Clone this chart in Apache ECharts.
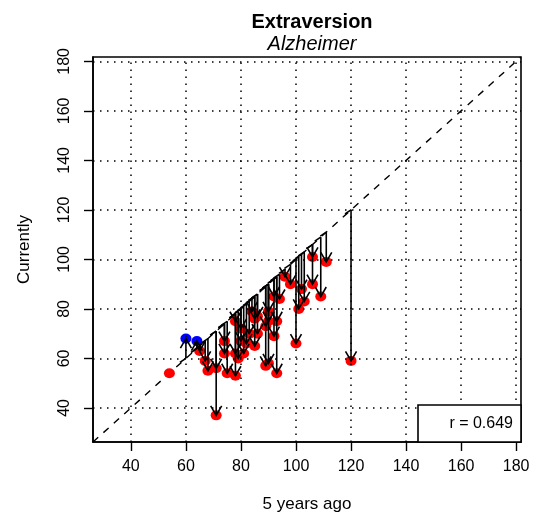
<!DOCTYPE html>
<html>
<head>
<meta charset="utf-8">
<script src="https://cdn.jsdelivr.net/npm/echarts@6/dist/echarts.min.js"></script>
<style>html,body{margin:0;padding:0;background:#fff;}#chart{width:536px;height:520px;}</style>
</head>
<body>
<div id="chart"></div>
<script>
// ---- data ----
const titleText = 'Extraversion';
const subtitleText = 'Alzheimer';
const xName = '5 years ago';
const yName = 'Currently';
const axisMin = 26.24;
const axisMax = 181.76;
const xTicks = [40, 60, 80, 100, 120, 140, 160, 180];
const yTicks = [40, 60, 80, 100, 120, 140, 160, 180];
const rValue = 0.649;
const fiveYearsAgo = [54, 60, 64, 65, 67, 68, 71, 71, 74, 74, 75, 78, 78, 79, 78, 80, 81, 82, 80, 84, 85, 85, 86, 86, 89, 89, 90, 90, 90, 92, 93, 93, 92, 94, 96, 98, 100, 101, 103, 102, 106, 106, 109, 111, 120, 83];
const currently    = [54, 68, 67, 63, 59, 55, 56, 37, 67, 62, 54, 53, 62, 60, 75, 72, 62, 66, 67, 79, 76, 65, 70, 77, 73, 57, 58, 79, 75, 69, 54, 75, 85, 84, 93, 90, 66, 80, 83, 88, 101, 90, 85, 99, 59, 70];

const FONT = 'Liberation Sans, Arial, Helvetica, sans-serif';
const pts = fiveYearsAgo.map((x, i) => [x, currently[i]]);

const chart = echarts.init(document.getElementById('chart'), null, {renderer: 'canvas'});
const option = {
  backgroundColor: '#fff',
  animation: false,
  title: [
    {text: titleText, left: 307, top: 7, textAlign: 'center',
     textStyle: {fontFamily: FONT, fontSize: 20, fontWeight: 'bold', color: '#000'}},
    {text: subtitleText, left: 307, top: 29, textAlign: 'center',
     textStyle: {fontFamily: FONT, fontSize: 20, fontStyle: 'italic', fontWeight: 'normal', color: '#000'}}
  ],
  grid: {left: 93, right: 15, top: 57, bottom: 78, show: true, borderColor: '#000', borderWidth: 1.6, backgroundColor: 'transparent'},
  xAxis: {
    type: 'value', min: axisMin, max: axisMax,
    name: xName, nameLocation: 'middle', nameGap: 54,
    nameTextStyle: {fontFamily: FONT, fontSize: 17, color: '#000'},
    axisLine: {show: true, lineStyle: {color: '#000', width: 1.6}},
    axisTick: {show: true, customValues: xTicks, length: 9, lineStyle: {color: '#000', width: 1.4}},
    axisLabel: {show: true, customValues: xTicks, margin: 17, fontFamily: FONT, fontSize: 16, color: '#000'},
    splitLine: {show: false}
  },
  yAxis: {
    type: 'value', min: axisMin, max: axisMax,
    name: yName, nameLocation: 'middle', nameGap: 60, nameRotate: 90,
    nameTextStyle: {fontFamily: FONT, fontSize: 17, color: '#000'},
    axisLine: {show: true, lineStyle: {color: '#000', width: 1.6}},
    axisTick: {show: true, customValues: yTicks, length: 9, lineStyle: {color: '#000', width: 1.4}},
    axisLabel: {show: true, customValues: yTicks, rotate: 90, margin: 20, fontFamily: FONT, fontSize: 16, color: '#000'},
    splitLine: {show: false}
  },
  graphic: [
    {type: 'rect', z: 100, shape: {x: 418, y: 405, width: 103, height: 37},
     style: {fill: '#fff', stroke: '#000', lineWidth: 1.6}},
    {type: 'text', z: 101, x: 513, y: 424,
     style: {text: 'r = ' + rValue.toFixed(3), fill: '#000', font: '16px ' + FONT, align: 'right', verticalAlign: 'middle'}}
  ],
  series: [
    {
      type: 'line', data: [[axisMin, axisMin], [axisMax, axisMax]], symbol: 'none', silent: true, z: 2,
      lineStyle: {color: '#000', width: 1.4, type: [7, 7]},
      markLine: {
        silent: true, symbol: ['none', 'none'], label: {show: false},
        lineStyle: {color: '#000', width: 1.5, type: [1.5, 5.5]},
        data: xTicks.map(v => ({xAxis: v})).concat(yTicks.map(v => ({yAxis: v})))
      }
    },
    {
      type: 'scatter', z: 3, symbol: 'circle', symbolSize: [11, 10],
      data: pts.map(p => ({value: p, itemStyle: {color: p[1] > p[0] ? '#0000ff' : '#ff0000', opacity: 1}}))
    },
    {
      type: 'custom', z: 4, silent: true,
      data: pts,
      encode: {x: 0, y: 1},
      renderItem: function (params, api) {
        const x = api.value(0), y = api.value(1);
        if (x === y) return null;
        const p0 = api.coord([x, x]);
        const p1 = api.coord([x, y]);
        const d = p1[1] > p0[1] ? 1 : -1;
        const L = 11;
        const s = L * Math.sin(Math.PI / 6), c = L * Math.cos(Math.PI / 6);
        const st = {stroke: '#000', lineWidth: 1.6, fill: null};
        return {
          type: 'group',
          children: [
            {type: 'line', shape: {x1: p0[0], y1: p0[1], x2: p1[0], y2: p1[1]}, style: st},
            {type: 'polyline', shape: {points: [[p1[0] - s, p1[1] - d * c], [p1[0], p1[1]], [p1[0] + s, p1[1] - d * c]]}, style: st},
            {type: 'line', shape: {x1: p0[0] - 6, y1: p0[1] + 4, x2: p0[0], y2: p0[1]}, style: st}
          ]
        };
      }
    }
  ]
};
chart.setOption(option);
</script>
</body>
</html>
